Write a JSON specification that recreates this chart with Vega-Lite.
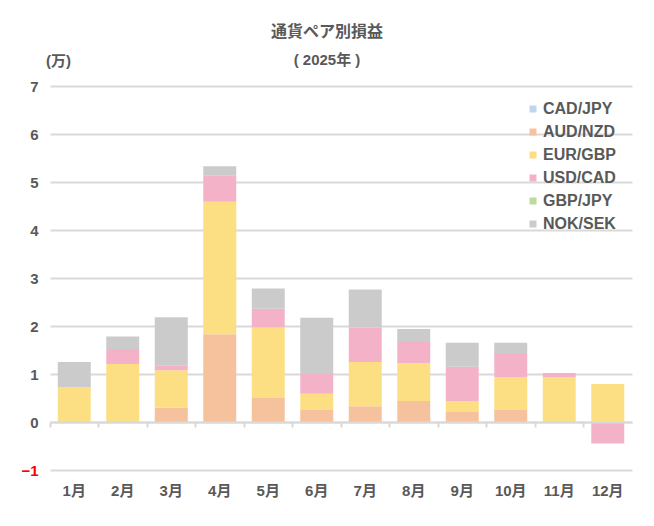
{
  "$schema": "https://vega.github.io/schema/vega-lite/v6.json",
  "width": 582,
  "height": 384,
  "autosize": "none",
  "padding": {"left": 50, "top": 86, "right": 22, "bottom": 56},
  "background": "white",
  "config": {
    "font": "Liberation Sans, Noto Sans CJK JP",
    "view": {"stroke": null}
  },
  "title": {
    "text": "通貨ペア別損益",
    "subtitle": "( 2025年 )",
    "anchor": "middle",
    "frame": "group",
    "dx": -14,
    "offset": -15,
    "fontSize": 16,
    "fontWeight": "bold",
    "color": "#595959",
    "subtitleFontSize": 15,
    "subtitleFontWeight": "bold",
    "subtitleColor": "#595959",
    "subtitlePadding": 13,
    "font": "Liberation Sans, Noto Sans CJK JP",
    "subtitleFont": "Liberation Sans, Noto Sans CJK JP"
  },
  "datasets": {
    "pairs": [
      {"pair": "CAD/JPY", "rank": 1},
      {"pair": "AUD/NZD", "rank": 2},
      {"pair": "EUR/GBP", "rank": 3},
      {"pair": "USD/CAD", "rank": 4},
      {"pair": "GBP/JPY", "rank": 5},
      {"pair": "NOK/SEK", "rank": 6}
    ],
    "pnl": [
      {"month": "1月", "pair": "EUR/GBP", "value": 0.72},
      {"month": "1月", "pair": "NOK/SEK", "value": 0.53},
      {"month": "2月", "pair": "EUR/GBP", "value": 1.21},
      {"month": "2月", "pair": "USD/CAD", "value": 0.31},
      {"month": "2月", "pair": "NOK/SEK", "value": 0.26},
      {"month": "3月", "pair": "AUD/NZD", "value": 0.30},
      {"month": "3月", "pair": "EUR/GBP", "value": 0.78},
      {"month": "3月", "pair": "USD/CAD", "value": 0.10},
      {"month": "3月", "pair": "NOK/SEK", "value": 1.00},
      {"month": "4月", "pair": "AUD/NZD", "value": 1.83},
      {"month": "4月", "pair": "EUR/GBP", "value": 2.76},
      {"month": "4月", "pair": "USD/CAD", "value": 0.55},
      {"month": "4月", "pair": "NOK/SEK", "value": 0.19},
      {"month": "5月", "pair": "AUD/NZD", "value": 0.50},
      {"month": "5月", "pair": "EUR/GBP", "value": 1.47},
      {"month": "5月", "pair": "USD/CAD", "value": 0.39},
      {"month": "5月", "pair": "NOK/SEK", "value": 0.42},
      {"month": "6月", "pair": "AUD/NZD", "value": 0.25},
      {"month": "6月", "pair": "EUR/GBP", "value": 0.34},
      {"month": "6月", "pair": "USD/CAD", "value": 0.41},
      {"month": "6月", "pair": "NOK/SEK", "value": 1.17},
      {"month": "7月", "pair": "AUD/NZD", "value": 0.33},
      {"month": "7月", "pair": "EUR/GBP", "value": 0.92},
      {"month": "7月", "pair": "USD/CAD", "value": 0.72},
      {"month": "7月", "pair": "NOK/SEK", "value": 0.79},
      {"month": "8月", "pair": "AUD/NZD", "value": 0.44},
      {"month": "8月", "pair": "EUR/GBP", "value": 0.79},
      {"month": "8月", "pair": "USD/CAD", "value": 0.46},
      {"month": "8月", "pair": "NOK/SEK", "value": 0.25},
      {"month": "9月", "pair": "AUD/NZD", "value": 0.21},
      {"month": "9月", "pair": "EUR/GBP", "value": 0.23},
      {"month": "9月", "pair": "USD/CAD", "value": 0.71},
      {"month": "9月", "pair": "NOK/SEK", "value": 0.50},
      {"month": "10月", "pair": "AUD/NZD", "value": 0.25},
      {"month": "10月", "pair": "EUR/GBP", "value": 0.69},
      {"month": "10月", "pair": "USD/CAD", "value": 0.50},
      {"month": "10月", "pair": "NOK/SEK", "value": 0.21},
      {"month": "11月", "pair": "EUR/GBP", "value": 0.94},
      {"month": "11月", "pair": "USD/CAD", "value": 0.08},
      {"month": "12月", "pair": "EUR/GBP", "value": 0.79},
      {"month": "12月", "pair": "USD/CAD", "value": -0.45}
    ]
  },
  "data": {"name": "pnl"},
  "transform": [
    {"lookup": "pair", "from": {"data": {"name": "pairs"}, "key": "pair", "fields": ["rank"]}}
  ],
  "mark": {"type": "bar", "width": {"band": 0.68}},
  "encoding": {
    "x": {
      "field": "month",
      "type": "nominal",
      "sort": ["1月","2月","3月","4月","5月","6月","7月","8月","9月","10月","11月","12月"],
      "scale": {"paddingInner": 0, "paddingOuter": 0},
      "axis": {
        "title": null,
        "orient": "bottom",
        "offset": -48,
        "bandPosition": 0,
        "domain": true,
        "domainColor": "#d9d9d9",
        "domainWidth": 2,
        "ticks": true,
        "tickColor": "#d9d9d9",
        "tickWidth": 2,
        "tickSize": 5,
        "labelAngle": 0,
        "labelPadding": 56,
        "labelFontSize": 15,
        "labelFontWeight": "bold",
        "labelColor": "#595959",
        "grid": false,
        "zindex": 1
      }
    },
    "y": {
      "field": "value",
      "type": "quantitative",
      "stack": "zero",
      "scale": {"domain": [-1, 7], "nice": false, "zero": false},
      "axis": {
        "title": "(万)",
        "titleAngle": 0,
        "titleX": 8,
        "titleY": -26,
        "titleAlign": "center",
        "titleBaseline": "middle",
        "titleFontSize": 15,
        "titleFontWeight": "bold",
        "titleColor": "#595959",
        "values": [-1, 0, 1, 2, 3, 4, 5, 6, 7],
        "domain": false,
        "ticks": false,
        "grid": true,
        "gridColor": "#d9d9d9",
        "gridWidth": 2,
        "labelPadding": 12,
        "labelFontSize": 15,
        "labelFontWeight": "bold",
        "labelColor": {"condition": {"test": "datum.value < 0", "value": "#ff0000"}, "value": "#595959"}
      }
    },
    "order": {"field": "rank", "type": "quantitative", "sort": "ascending"},
    "color": {
      "field": "pair",
      "type": "nominal",
      "sort": ["CAD/JPY", "AUD/NZD", "EUR/GBP", "USD/CAD", "GBP/JPY", "NOK/SEK"],
      "scale": {
        "domain": ["CAD/JPY", "AUD/NZD", "EUR/GBP", "USD/CAD", "GBP/JPY", "NOK/SEK"],
        "range": ["#bdd7ee", "#f6c29d", "#fddf83", "#f4b2c9", "#b8dba0", "#cbcbcb"]
      },
      "legend": {
        "title": null,
        "orient": "none",
        "legendX": 475,
        "legendY": 15,
        "symbolType": "square",
        "symbolSize": 49,
        "symbolStrokeWidth": 0,
        "labelFontSize": 16,
        "labelFontWeight": "bold",
        "labelColor": "#595959",
        "labelOffset": 2,
        "rowPadding": 7
      }
    }
  }
}
